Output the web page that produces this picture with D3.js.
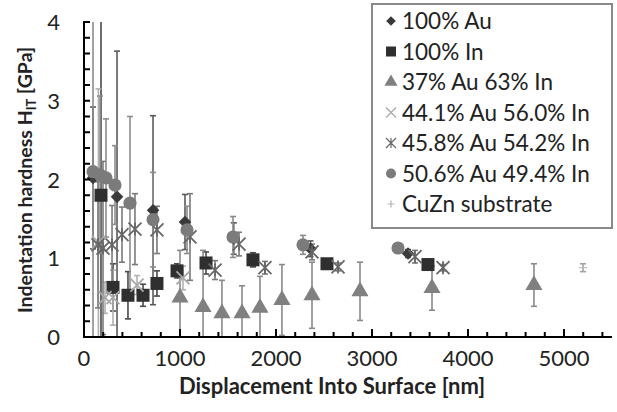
<!DOCTYPE html>
<html>
<head>
<meta charset="utf-8">
<script src="https://cdn.jsdelivr.net/npm/d3@7"></script>
<style>
  body { margin: 0; background: #fff; }
  text { font-family: Lato, "Open Sans", sans-serif; }
</style>
</head>
<body>
<svg id="chart" width="617" height="412"></svg>
<script>
// data: depth [nm], hardness [GPa], error [GPa]
var au100_x = [94, 344, 719, 1052, 1560, 2360, 3375]
var au100_y = [2.02, 1.78, 1.61, 1.46, 1.25, 1.12, 1.06]
var au100_e = [0.9, 1.85, 1.2, 0.35, 0.2, 0.1, 0.05]

var in100_x = [177, 302, 458, 615, 760, 969, 1271, 1760, 2531, 3583]
var in100_y = [1.80, 0.63, 0.53, 0.53, 0.68, 0.84, 0.94, 0.98, 0.93, 0.92]
var in100_e = [2.5, 0.3, 0.3, 0.14, 0.16, 0.09, 0.14, 0.09, 0.06, 0.03]

var au37_x = [1000, 1240, 1437, 1646, 1833, 2062, 2375, 2875, 3625, 4687]
var au37_y = [0.50, 0.38, 0.30, 0.30, 0.37, 0.47, 0.53, 0.58, 0.62, 0.66]
var au37_e = [0.6, 0.72, 0.42, 0.35, 0.4, 0.45, 0.42, 0.37, 0.28, 0.27]

var au441_x = [150, 219, 302, 552, 1031]
var au441_y = [1.20, 0.50, 0.50, 0.66, 0.75]
var au441_e = [1.95, 0.2, 0.35, 0.12, 0.15]

var au458_x = [146, 198, 292, 396, 531, 760, 1104, 1365, 1615, 1885, 2375, 2646, 3448, 3740]
var au458_y = [1.17, 1.13, 1.17, 1.30, 1.37, 1.36, 1.27, 0.85, 1.18, 0.88, 1.08, 0.89, 1.02, 0.88]
var au458_e = [0.8, 1.1, 0.5, 0.35, 0.45, 0.3, 0.55, 0.12, 0.15, 0.08, 0.1, 0.05, 0.08, 0.04]

var au506_x = [94, 167, 229, 323, 479, 719, 1073, 1552, 2281, 3271]
var au506_y = [2.10, 2.06, 2.02, 1.93, 1.70, 1.49, 1.36, 1.27, 1.17, 1.13]
var au506_e = [2.2, 1.0, 0.75, 0.5, 1.1, 0.6, 0.3, 0.26, 0.12, 0.05]

var cuzn_x = [5198]
var cuzn_y = [0.88]
var cuzn_e = [0.05]

var seriesNames = ["100% Au", "100% In", "37% Au 63% In", "44.1% Au 56.0% In",
  "45.8% Au 54.2% In", "50.6% Au 49.4% In", "CuZn substrate"]
var seriesX = [au100_x, in100_x, au37_x, au441_x, au458_x, au506_x, cuzn_x]
var seriesY = [au100_y, in100_y, au37_y, au441_y, au458_y, au506_y, cuzn_y]
var seriesE = [au100_e, in100_e, au37_e, au441_e, au458_e, au506_e, cuzn_e]
var seriesShape = ["diamond", "square", "triangle", "x", "star", "circle", "plus"]
var seriesColor = ["#3a3a3a", "#2f2f2f", "#808080", "#a8a8a8", "#676767", "#7b7b7b", "#b5b5b5"]
var barColor = ["#5a5a5a", "#4a4a4a", "#8a8a8a", "#b0b0b0", "#7a7a7a", "#8c8c8c", "#a0a0a0"]

var svg = d3.select("#chart")
var x = d3.scaleLinear().domain([0, 5500]).range([84, 612])
var y = d3.scaleLinear().domain([0, 4]).range([337, 22])

// clip for the error bars
svg.append("clipPath").attr("id", "plotclip")
  .append("rect").attr("x", 84).attr("y", 22).attr("width", 528).attr("height", 315)

function symbolPath(shape, size){
  var s = size
  if(shape == "diamond") return d3.symbol().type(d3.symbolDiamond2 || d3.symbolDiamond).size(s*s*0.6)()
  if(shape == "square") return d3.symbol().type(d3.symbolSquare).size(s*s)()
  if(shape == "triangle") return d3.symbol().type(d3.symbolTriangle).size(s*s*0.75)()
  if(shape == "circle") return d3.symbol().type(d3.symbolCircle).size(s*s*0.8)()
  var h = s/2
  if(shape == "x") return "M"+(-h)+","+(-h)+"L"+h+","+h+"M"+(-h)+","+h+"L"+h+","+(-h)
  if(shape == "plus") return "M"+(-h)+",0L"+h+",0M0,"+(-h)+"L0,"+h
  // star = x with vertical bar
  return "M"+(-h)+","+(-h)+"L"+h+","+h+"M"+(-h)+","+h+"L"+h+","+(-h)+"M0,"+(-h)+"L0,"+h
}

// error bars first, then markers
var bars = svg.append("g").attr("clip-path", "url(#plotclip)")
seriesX.forEach(function(xs, si){
  var pts = xs.map(function(d, i){ return {x: d, y: seriesY[si][i], e: seriesE[si][i]} })
  var g = bars.append("g").selectAll("g").data(pts).enter().append("g")
  g.append("line")
    .attr("x1", function(d){ return x(d.x) }).attr("x2", function(d){ return x(d.x) })
    .attr("y1", function(d){ return y(d.y + d.e) }).attr("y2", function(d){ return y(d.y - d.e) })
    .style("stroke", barColor[si]).style("stroke-width", 1.6)
  ;[1, -1].forEach(function(sgn){
    g.append("line")
      .attr("x1", function(d){ return x(d.x) - 3 }).attr("x2", function(d){ return x(d.x) + 3 })
      .attr("y1", function(d){ return y(d.y + sgn*d.e) }).attr("y2", function(d){ return y(d.y + sgn*d.e) })
      .style("stroke", barColor[si]).style("stroke-width", 1.6)
  })
})

seriesX.forEach(function(xs, si){
  var pts = xs.map(function(d, i){ return {x: d, y: seriesY[si][i]} })
  var shape = seriesShape[si]
  var open = (shape == "x" || shape == "star" || shape == "plus")
  svg.append("g").selectAll("path").data(pts).enter().append("path")
    .attr("d", symbolPath(shape, shape == "plus" ? 8 : 13))
    .attr("transform", function(d){ return "translate(" + x(d.x) + "," + y(d.y) + ")" })
    .style("fill", open ? "none" : seriesColor[si])
    .style("stroke", open ? seriesColor[si] : "none")
    .style("stroke-width", shape == "plus" ? 1 : 1.8)
})

// axes: ticks pointing inward
var yMinor = d3.range(0, 4.01, 0.2)
svg.append("g").selectAll("line").data(yMinor).enter().append("line")
  .attr("x1", 84).attr("x2", 90)
  .attr("y1", function(d){ return y(d) }).attr("y2", function(d){ return y(d) })
  .style("stroke", "#000").style("stroke-width", 2)
var xMinor = d3.range(0, 5501, 200)
svg.append("g").selectAll("line").data(xMinor).enter().append("line")
  .attr("x1", function(d){ return x(d) }).attr("x2", function(d){ return x(d) })
  .attr("y1", 337).attr("y2", function(d){ return d % 1000 == 0 ? 329 : 332 })
  .style("stroke", "#000").style("stroke-width", 2)
svg.append("line").attr("x1", 84).attr("x2", 84).attr("y1", 21).attr("y2", 338)
  .style("stroke", "#000").style("stroke-width", 2)
svg.append("line").attr("x1", 83).attr("x2", 612).attr("y1", 337).attr("y2", 337)
  .style("stroke", "#000").style("stroke-width", 2)

var yTicks = [0, 1, 2, 3, 4]
svg.append("g").selectAll("text").data(yTicks).enter().append("text")
  .attr("x", 60).attr("y", function(d){ return y(d) + 8 })
  .attr("text-anchor", "end").style("font-size", "22px").style("fill", "#222")
  .text(function(d){ return d })
var xTicks = [0, 1000, 2000, 3000, 4000, 5000]
svg.append("g").selectAll("text").data(xTicks).enter().append("text")
  .attr("x", function(d){ return x(d) }).attr("y", 366)
  .attr("text-anchor", "middle").style("font-size", "22px").style("fill", "#222")
  .text(function(d){ return d })

svg.append("text").attr("x", 332).attr("y", 394).attr("text-anchor", "middle")
  .style("font-size", "22px").style("font-weight", "bold").style("fill", "#222")
  .text("Displacement Into Surface [nm]")

var yl = svg.append("text").attr("transform", "translate(32,180) rotate(-90)")
  .attr("text-anchor", "middle").style("font-size", "19.5px").style("font-weight", "bold").style("fill", "#222")
yl.append("tspan").text("Indentation hardness H")
yl.append("tspan").attr("dy", 4).style("font-size", "13px").text("IT")
yl.append("tspan").attr("dy", -4).text(" [GPa]")

// legend
var lg = svg.append("g")
lg.append("rect").attr("x", 372).attr("y", 4).attr("width", 240).attr("height", 224)
  .style("fill", "#fff").style("stroke", "#8a8a8a").style("stroke-width", 2)
var items = lg.selectAll("g.item").data(seriesNames).enter().append("g")
  .attr("transform", function(d, i){ return "translate(0," + (21 + i*30.5) + ")" })
items.append("path")
  .attr("d", function(d, i){ return symbolPath(seriesShape[i], seriesShape[i] == "plus" ? 7 : 10) })
  .attr("transform", "translate(391,0)")
  .style("fill", function(d, i){ var s = seriesShape[i]; return (s == "x" || s == "star" || s == "plus") ? "none" : seriesColor[i] })
  .style("stroke", function(d, i){ var s = seriesShape[i]; return (s == "x" || s == "star" || s == "plus") ? seriesColor[i] : "none" })
  .style("stroke-width", 1.2)
items.append("text").attr("x", 402).attr("y", 8)
  .style("font-size", "22.5px").style("fill", "#222")
  .text(function(d){ return d })
</script>
</body>
</html>
